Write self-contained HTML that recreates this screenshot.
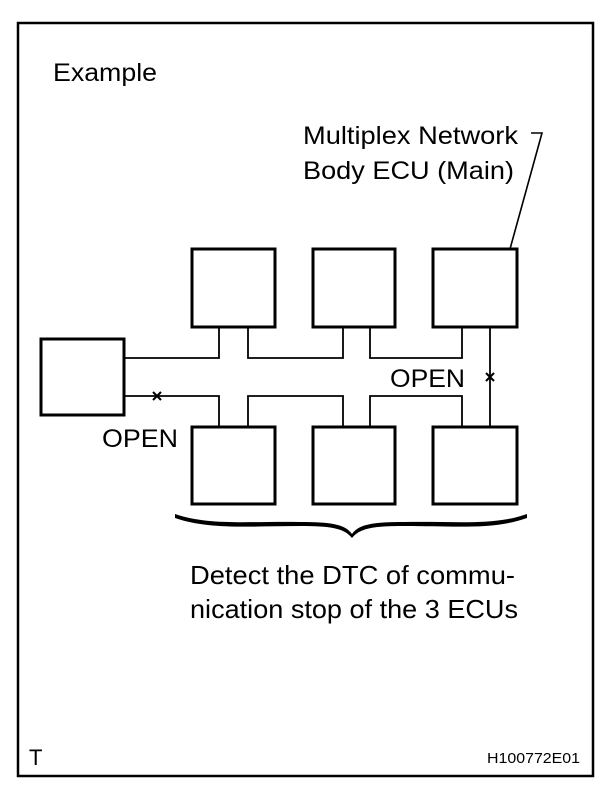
<!DOCTYPE html>
<html><head><style>
html,body{margin:0;padding:0;background:#fff;}
svg{display:block;}
text{font-family:"Liberation Sans",sans-serif;fill:#000;}
</style></head><body>
<svg width="608" height="796" viewBox="0 0 608 796" xmlns="http://www.w3.org/2000/svg">
<rect x="18" y="23" width="575" height="753" fill="none" stroke="#000" stroke-width="2.5"/>
<text x="53" y="81" font-size="25" textLength="104" lengthAdjust="spacingAndGlyphs">Example</text>
<text x="303" y="144" font-size="25" textLength="215" lengthAdjust="spacingAndGlyphs">Multiplex Network</text>
<text x="303" y="179" font-size="25" textLength="211" lengthAdjust="spacingAndGlyphs">Body ECU (Main)</text>
<polyline points="531,133 542,133 510,249" fill="none" stroke="#000" stroke-width="1.6"/>
<g fill="none" stroke="#000" stroke-width="3">
<rect x="41" y="339" width="83" height="76"/>
<rect x="192" y="249" width="83" height="78"/>
<rect x="313" y="249" width="82" height="78"/>
<rect x="433" y="249" width="84" height="78"/>
<rect x="192" y="427" width="83" height="77"/>
<rect x="313" y="427" width="82" height="77"/>
<rect x="433" y="427" width="84" height="77"/>
</g>
<g fill="none" stroke="#000" stroke-width="1.8">
<polyline points="124,358 219,358 219,327"/>
<polyline points="248,327 248,358 343,358 343,327"/>
<polyline points="370,327 370,358 462,358 462,327"/>
<line x1="490" y1="327" x2="490" y2="427"/>
<polyline points="124,396 219,396 219,427"/>
<polyline points="248,427 248,396 343,396 343,427"/>
<polyline points="370,427 370,396 462,396 462,427"/>
</g>
<g stroke="#000" stroke-width="2">
<line x1="153" y1="392" x2="161" y2="400"/><line x1="161" y1="392" x2="153" y2="400"/>
<line x1="486" y1="373" x2="494" y2="381"/><line x1="494" y1="373" x2="486" y2="381"/>
</g>
<text x="390" y="387" font-size="25" textLength="75" lengthAdjust="spacingAndGlyphs">OPEN</text>
<text x="102" y="447" font-size="25" textLength="76" lengthAdjust="spacingAndGlyphs">OPEN</text>
<path d="M175,514 C210,526 250,521 300,522 C330,522 345,524 352,534 C359,524 374,522 404,522 C454,521 494,526 527,514 L527,518 C494,530 454,526 404,526 C374,526 360,528 352,538 C344,528 330,526 300,526 C250,526 210,530 175,518 Z" fill="#000"/>
<text x="190" y="584" font-size="26" textLength="325" lengthAdjust="spacingAndGlyphs">Detect the DTC of commu-</text>
<text x="190" y="618" font-size="26" textLength="328" lengthAdjust="spacingAndGlyphs">nication stop of the 3 ECUs</text>
<text x="29" y="765" font-size="22">T</text>
<text x="487" y="763" font-size="15" textLength="93" lengthAdjust="spacingAndGlyphs">H100772E01</text>
</svg>
</body></html>
